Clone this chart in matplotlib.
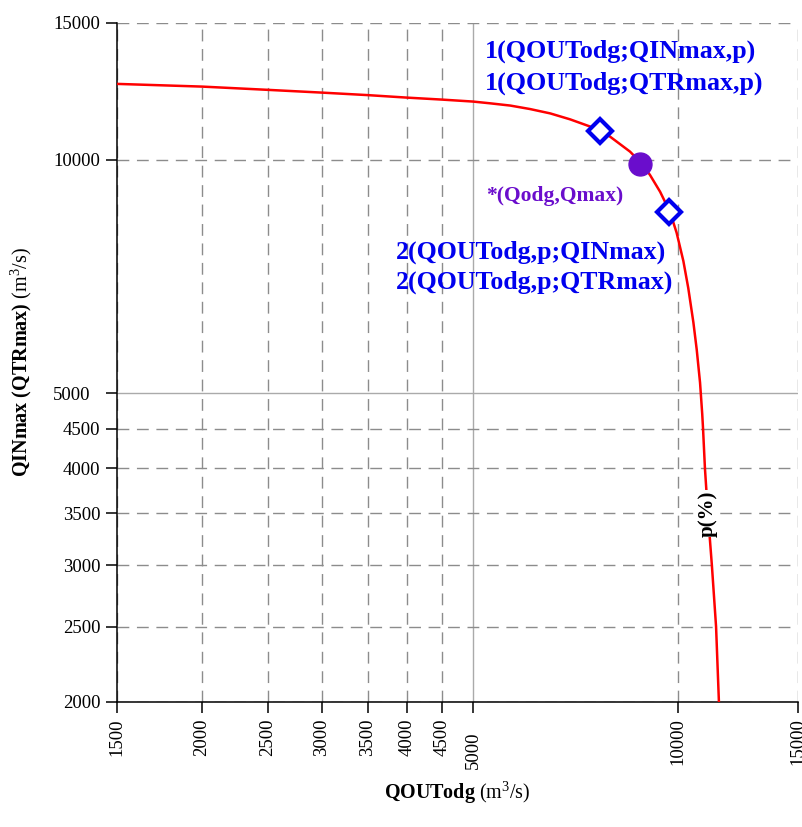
import numpy as np
import matplotlib
matplotlib.use("Agg")
import matplotlib.pyplot as plt

plt.rcParams['font.family'] = ['Liberation Serif', 'DejaVu Serif']
plt.rcParams['mathtext.fontset'] = 'custom'
plt.rcParams['mathtext.rm'] = 'Liberation Serif'
plt.rcParams['mathtext.it'] = 'Liberation Serif:italic'
plt.rcParams['mathtext.bf'] = 'Liberation Serif:bold'

# p(%) curve, QOUTodg vs QINmax
qout = [1500, 2000, 2500, 3000, 3500, 4000, 4500, 5000, 5290, 5670, 6060,
        6490, 6940, 7430, 7940, 8500, 8790, 9090, 9410, 9730, 9950, 10180,
        10350, 10530, 10650, 10770, 10850, 10880, 10950, 11060, 11210,
        11370, 11480]
qin = [12520, 12420, 12300, 12200, 12110, 12020, 11950, 11880, 11820, 11740,
       11620, 11470, 11270, 11030, 10710, 10240, 9935, 9560, 9090, 8560,
       8050, 7400, 6830, 6170, 5690, 5160, 4700, 4500, 4000, 3500, 3000,
       2500, 2000]

# design points
pt1 = (7680, 10890)
pt2 = (9700, 8560)
pt_star = (8800, 9860)

xticks = [1500, 2000, 2500, 3000, 3500, 4000, 4500, 5000, 10000, 15000]
yticks = [2000, 2500, 3000, 3500, 4000, 4500, 5000, 10000, 15000]

fig = plt.figure(figsize=(8.03, 8.27), dpi=100)
ax = fig.add_axes([0.1457, 0.1512, 0.8481, 0.8210])

ax.set_xscale('log')
ax.set_yscale('log')
ax.set_xlim(1500, 15000)
ax.set_ylim(2000, 15000)
ax.set_xticks(xticks)
ax.set_xticklabels([str(v) for v in xticks], rotation=90)
ax.set_yticks(yticks)
ax.set_yticklabels([str(v) for v in yticks])
ax.minorticks_off()
ax.tick_params(length=8, width=1.1, labelsize=13.5, pad=4, color='black')

for s in ['top', 'right']:
    ax.spines[s].set_visible(False)
for s in ['left', 'bottom']:
    ax.spines[s].set_linewidth(1.1)

ax.grid(True, color='#8c8c8c', linewidth=1.0, dashes=(8.5, 5.5))
ax.set_axisbelow(True)

# 5000 lines are solid with longer ticks
for t, v in zip(ax.xaxis.get_major_ticks(), xticks):
    if v == 5000:
        t.gridline.set_linestyle('-')
        t.gridline.set_color('#aaaaaa')
        t.tick1line.set_markersize(17)
        t.set_pad(13)
for t, v in zip(ax.yaxis.get_major_ticks(), yticks):
    if v == 5000:
        t.gridline.set_linestyle('-')
        t.gridline.set_color('#aaaaaa')
        t.tick1line.set_markersize(17)
        t.set_pad(11)

ax.plot(qout, qin, color='red', lw=1.8, zorder=3)
ax.plot(*pt1, marker='D', ms=12, mfc='white', mec='#0000ee', mew=3, zorder=4)
ax.plot(*pt2, marker='D', ms=12, mfc='white', mec='#0000ee', mew=3, zorder=4)
ax.plot(*pt_star, marker='o', ms=16.5, color='#6a0dcc', zorder=5)

blue = '#0000ee'
ax.text(0.540, 0.958, '1(QOUTodg;QINmax,p)', transform=ax.transAxes,
        fontsize=18.7, fontweight='bold', color=blue, va='center')
ax.text(0.540, 0.911, '1(QOUTodg;QTRmax,p)', transform=ax.transAxes,
        fontsize=18.7, fontweight='bold', color=blue, va='center')
ax.text(0.542, 0.745, '*(Qodg,Qmax)', transform=ax.transAxes,
        fontsize=15.5, fontweight='bold', color='#6a0dcc', va='center')
ax.text(0.4097, 0.663, '2(QOUTodg,p;QINmax)', transform=ax.transAxes,
        fontsize=18.6, fontweight='bold', color=blue, va='center')
ax.text(0.4097, 0.6186, '2(QOUTodg,p;QTRmax)', transform=ax.transAxes,
        fontsize=18.6, fontweight='bold', color=blue, va='center')

ax.text(11060, 3500, 'p(%)', rotation=90, fontsize=15, fontweight='bold',
        ha='center', va='center', zorder=6,
        bbox=dict(facecolor='white', edgecolor='none', pad=0.5))

ax.set_xlabel(r'$\mathbf{QOUTodg}$ (m$^3$/s)', fontsize=14.5, labelpad=8)
ax.set_ylabel(r'$\mathbf{QINmax\ (QTRmax)}$ (m$^3$/s)', fontsize=14.5, labelpad=14)

fig.savefig('out.png', dpi=100)
